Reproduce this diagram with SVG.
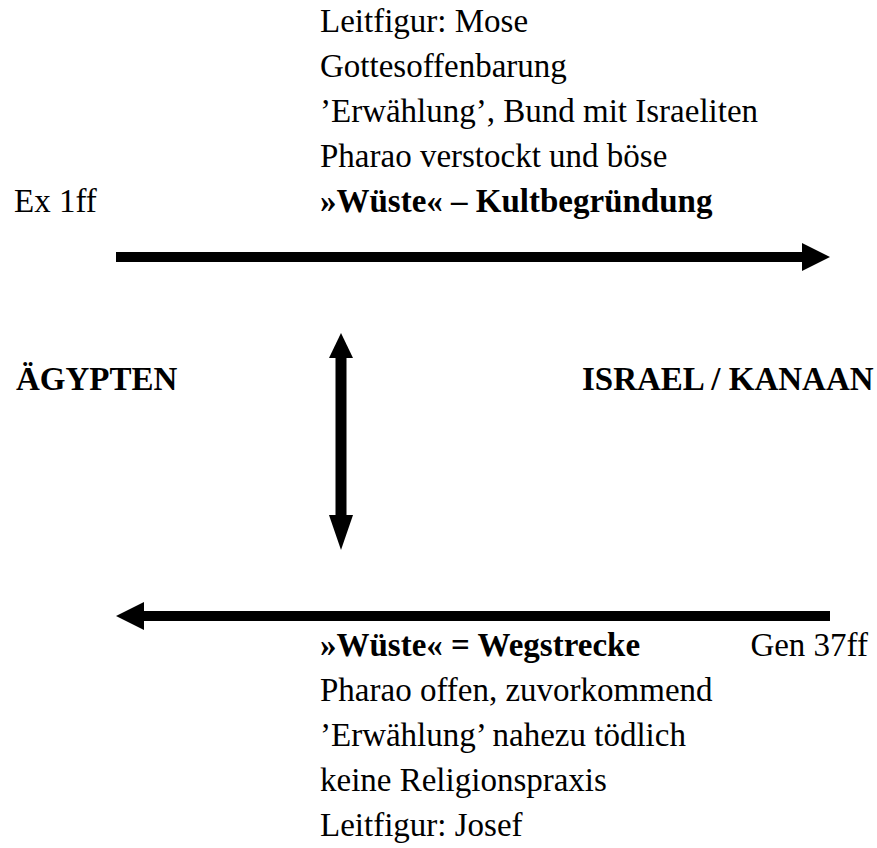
<svg xmlns="http://www.w3.org/2000/svg" width="877" height="848" viewBox="0 0 877 848">
<style>
text{font-family:"Liberation Serif","Times New Roman",serif;font-size:33px;fill:#000}
.b{font-weight:bold}
.ar{fill:#000;stroke:none}
</style>
<rect width="877" height="848" fill="#fff"/>
<g id="top-text">
<text x="320" y="32">Leitfigur: Mose</text>
<text x="320" y="77">Gottesoffenbarung</text>
<text x="320" y="122">’Erwählung’, Bund mit Israeliten</text>
<text x="320" y="167">Pharao verstockt und böse</text>
<text x="320" y="212" class="b">»Wüste« – Kultbegründung</text>
</g>
<g id="ex"><text x="14" y="212">Ex 1ff</text></g>
<g id="aegypten"><text x="16" y="390" class="b">ÄGYPTEN</text></g>
<g id="israel"><text x="582" y="390" class="b">ISRAEL / KANAAN</text></g>
<g id="bottom-text">
<text x="320" y="656" class="b">»Wüste« = Wegstrecke</text>
<text x="320" y="701">Pharao offen, zuvorkommend</text>
<text x="320" y="746">’Erwählung’ nahezu tödlich</text>
<text x="320" y="791">keine Religionspraxis</text>
<text x="320" y="836">Leitfigur: Josef</text>
</g>
<g id="gen"><text x="868" y="656" text-anchor="end">Gen 37ff</text></g>
<g id="connectors">
<rect class="ar" x="116" y="252" width="688" height="10"/>
<polygon class="ar" points="802,243 830,257 802,271"/>
<rect class="ar" x="142" y="611" width="688" height="10"/>
<polygon class="ar" points="116,616 144,602 144,630"/>
<rect class="ar" x="335.5" y="355" width="11" height="163"/>
<polygon class="ar" points="341,333 353,358 329,358"/>
<polygon class="ar" points="341,550 353,515 329,515"/>
</g>
</svg>
